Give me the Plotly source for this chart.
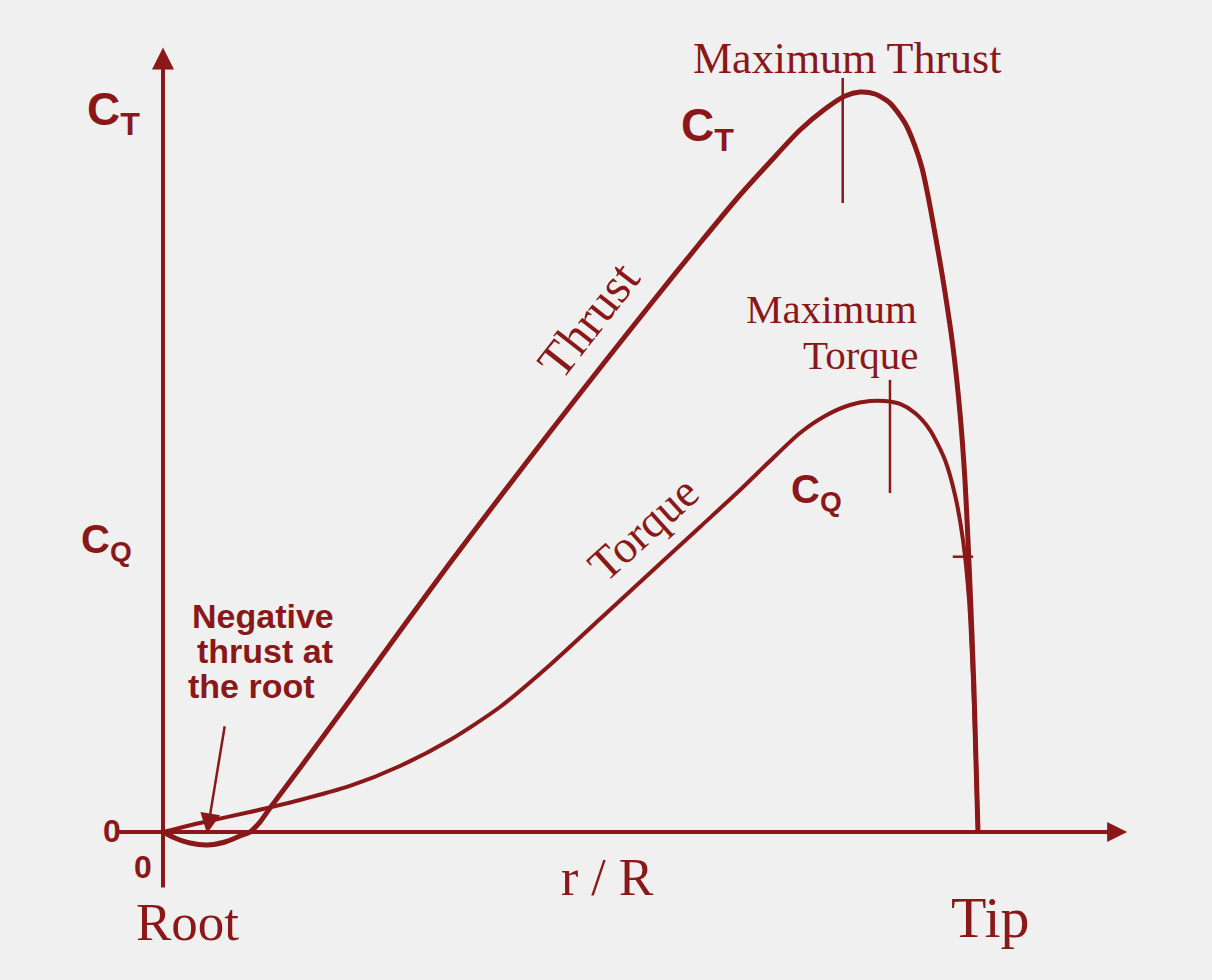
import plotly.graph_objects as go

# ---- data (r/R, normalized coefficient) ----
thrust_r = [0.0, 0.0147, 0.0331, 0.0540, 0.0761, 0.0945, 0.1067, 0.1190, 0.1313, 0.1497,
            0.1681, 0.2294, 0.2908, 0.3521, 0.4135, 0.4748, 0.5362, 0.5975, 0.6589, 0.7080,
            0.7448, 0.7816, 0.8123, 0.8368, 0.8552, 0.8736, 0.8920, 0.9104, 0.9227, 0.9313,
            0.9387, 0.9460, 0.9571, 0.9693, 0.9779, 0.9840, 0.9877, 0.9914, 0.9951, 0.9975, 1.0]
thrust_c = [0.0, -0.0081, -0.0149, -0.0176, -0.0135, -0.0054, 0.0, 0.0135, 0.0324, 0.0595,
            0.0865, 0.1784, 0.2716, 0.3635, 0.4527, 0.5405, 0.6270, 0.7122, 0.7959, 0.8608,
            0.9054, 0.9486, 0.9770, 0.9946, 1.0, 0.9973, 0.9851, 0.9581, 0.9270, 0.8973,
            0.8595, 0.8162, 0.7459, 0.6554, 0.5662, 0.4757, 0.3946, 0.3000, 0.1919, 0.0973, 0.0]

torque_r = [0.0, 0.0454, 0.1067, 0.1681, 0.2294, 0.2908, 0.3521, 0.4135, 0.4748, 0.5362,
            0.5975, 0.6589, 0.7080, 0.7448, 0.7816, 0.8123, 0.8429, 0.8675, 0.8859, 0.9043,
            0.9227, 0.9411, 0.9595, 0.9718, 0.9816, 0.9890, 0.9939, 0.9975, 1.0]
torque_c = [0.0, 0.0122, 0.0270, 0.0432, 0.0622, 0.0892, 0.1243, 0.1689, 0.2257, 0.2878,
            0.3500, 0.4122, 0.4622, 0.5014, 0.5392, 0.5622, 0.5770, 0.5824, 0.5824, 0.5784,
            0.5662, 0.5432, 0.5027, 0.4554, 0.3946, 0.3135, 0.2054, 0.0973, 0.0]

max_thrust_r = 0.834
max_torque_r = 0.892

RED = "#8a1818"
BG = "#f0f0f0"
SERIF = "Liberation Serif, Times New Roman, serif"
SANS = "Liberation Sans, Arial, sans-serif"

fig = go.Figure()
fig.add_trace(go.Scatter(x=thrust_r, y=thrust_c, mode="lines",
                         line=dict(color=RED, width=5, shape="spline", smoothing=0.7),
                         hoverinfo="skip", showlegend=False))
fig.add_trace(go.Scatter(x=torque_r, y=torque_c, mode="lines",
                         line=dict(color=RED, width=4, shape="spline", smoothing=0.7),
                         hoverinfo="skip", showlegend=False))

shapes = [
    dict(type="line", x0=0.0, x1=0.0, y0=-0.075, y1=1.0, line=dict(color=RED, width=4)),
    dict(type="line", x0=-0.055, x1=1.15, y0=0.0, y1=0.0, line=dict(color=RED, width=4)),
    dict(type="line", x0=max_thrust_r, x1=max_thrust_r, y0=0.85, y1=1.019, line=dict(color=RED, width=2.5)),
    dict(type="line", x0=max_torque_r, x1=max_torque_r, y0=0.458, y1=0.611, line=dict(color=RED, width=2.5)),
    dict(type="line", x0=0.969, x1=0.994, y0=0.372, y1=0.372, line=dict(color=RED, width=2.5)),
]

ann = []
ann.append(dict(x=0.0, y=1.06, ax=0.0, ay=0.95, xref="x", yref="y", axref="x", ayref="y",
                showarrow=True, arrowhead=2, arrowsize=1.1, arrowwidth=4, arrowcolor=RED, text=""))
ann.append(dict(x=1.183, y=0.0, ax=1.10, ay=0.0, xref="x", yref="y", axref="x", ayref="y",
                showarrow=True, arrowhead=2, arrowsize=1.0, arrowwidth=4, arrowcolor=RED, text=""))
ann.append(dict(x=0.054, y=-0.002, ax=0.076, ay=0.145, xref="x", yref="y", axref="x", ayref="y",
                showarrow=True, arrowhead=2, arrowsize=1.6, arrowwidth=2.5, arrowcolor=RED, text=""))


def txt(x, y, s, size, family, bold=False, angle=0, xanchor="center"):
    if bold:
        s = "<b>" + s + "</b>"
    ann.append(dict(x=x, y=y, xref="x", yref="y", text=s, showarrow=False, textangle=angle,
                    xanchor=xanchor, yanchor="middle",
                    font=dict(family=family, size=size, color=RED)))


def px2x(p):
    return (p - 163) / 815


def px2y(p):
    return (832 - p) / 740


txt(px2x(847), px2y(58), "Maximum Thrust", 44, SERIF)
txt(px2x(919), px2y(309), "Maximum", 41, SERIF, xanchor="right")
txt(px2x(921), px2y(355), "Torque", 41, SERIF, xanchor="right")
txt(px2x(588), px2y(320), "Thrust", 50, SERIF, angle=-52)
txt(px2x(643), px2y(528), "Torque", 46, SERIF, angle=-42)
txt(px2x(607), px2y(877), "r / R", 52, SERIF)
txt(px2x(187), px2y(922), "Root", 53, SERIF)
txt(px2x(990), px2y(917), "Tip", 58, SERIF)

txt(px2x(113), px2y(112), "C<sub>T</sub>", 46, SANS, bold=True)
txt(px2x(707), px2y(128), "C<sub>T</sub>", 46, SANS, bold=True)
txt(px2x(106), px2y(542), "C<sub>Q</sub>", 40, SANS, bold=True)
txt(px2x(816), px2y(492), "C<sub>Q</sub>", 40, SANS, bold=True)
txt(px2x(112), px2y(831), "0", 32, SANS, bold=True)
txt(px2x(143), px2y(867), "0", 32, SANS, bold=True)

txt(px2x(263), px2y(616), "Negative", 34, SANS, bold=True)
txt(px2x(265), px2y(651), "thrust at", 34, SANS, bold=True)
txt(px2x(251), px2y(686), "the root", 34, SANS, bold=True)

fig.update_layout(
    width=1212, height=980,
    margin=dict(l=0, r=0, t=0, b=0),
    paper_bgcolor=BG, plot_bgcolor=BG,
    xaxis=dict(range=[px2x(0), px2x(1212)], visible=False, fixedrange=True),
    yaxis=dict(range=[px2y(980), px2y(0)], visible=False, fixedrange=True),
    shapes=shapes, annotations=ann, showlegend=False,
)

fig.write_html("out.html", config={"displayModeBar": False},
               post_script="document.body.style.margin='0';document.body.style.overflow='hidden';")
